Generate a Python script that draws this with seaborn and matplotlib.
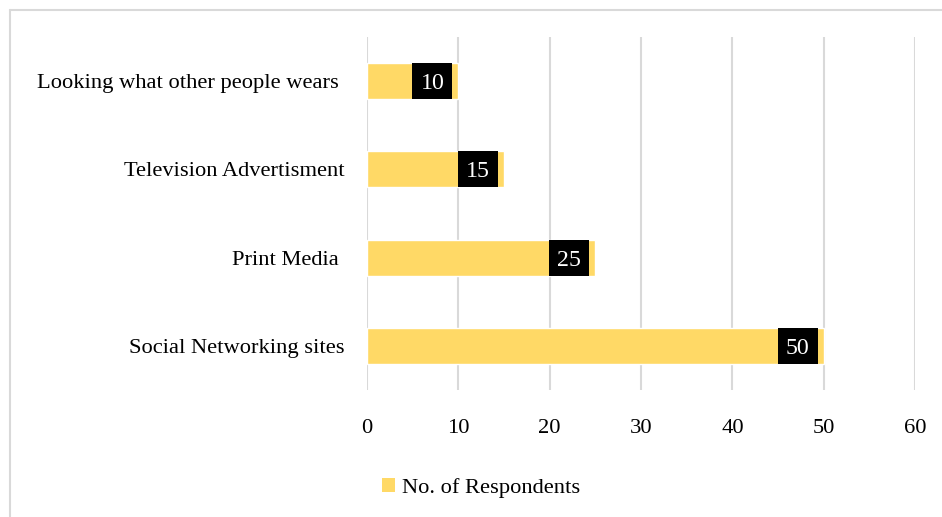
import matplotlib
matplotlib.use("Agg")
import matplotlib.pyplot as plt
from matplotlib.patches import Patch, Rectangle
from matplotlib.lines import Line2D
import seaborn as sns
import pandas as pd

# Sources that influence clothing choices
categories = [
    "Looking what other people wears ",
    "Television Advertisment",
    "Print Media ",
    "Social Networking sites",
]
respondents = [10, 15, 25, 50]
series_name = "No. of Respondents"
x_ticks = [0, 10, 20, 30, 40, 50, 60]

BAR_COLOR = "#FFD966"
GRID_COLOR = "#D9D9D9"
FS = 16.2

sns.set_theme(style="white")
plt.rcParams["font.family"] = ["Liberation Serif", "DejaVu Serif"]
plt.rcParams["text.color"] = "black"

df = pd.DataFrame({"source": categories, "count": respondents})

fig = plt.figure(figsize=(9.42, 5.17), dpi=100)
ax = fig.add_axes([367 / 942, 1 - 390 / 517, (915 - 367) / 942, (390 - 37) / 517])

sns.barplot(data=df, x="count", y="source", orient="h", color=BAR_COLOR,
            saturation=1, width=0.41, ax=ax, zorder=2)

ax.set_xlim(0, 60)
ax.set_xticks(x_ticks)
ax.set_xticklabels([str(t) for t in x_ticks])
ax.xaxis.grid(True, color=GRID_COLOR, linewidth=1.5, zorder=0)
ax.set_axisbelow(True)
for side in ax.spines.values():
    side.set_visible(False)
ax.tick_params(axis="x", length=0, pad=21, labelsize=FS, colors="black")
ax.tick_params(axis="y", length=0, pad=16, labelsize=FS, colors="black")
ax.set_xlabel("")
ax.set_ylabel("")

# Value labels: black boxes inside the bar ends
px_per_unit = ax.get_window_extent().width / 60
box_w = 40 / px_per_unit
gap = 6 / px_per_unit
for bar, val in zip(ax.patches, respondents):
    y0 = bar.get_y()
    h = bar.get_height()
    right = bar.get_width() - gap
    ax.add_patch(Rectangle((right - box_w, y0), box_w, h, facecolor="black",
                           edgecolor="none", zorder=3))
    ax.text(right - box_w / 2, y0 + h / 2, str(val), color="white",
            fontsize=FS + 1, ha="center", va="center_baseline", zorder=4)

leg = fig.legend(handles=[Patch(facecolor=BAR_COLOR, edgecolor="none")],
                 labels=[series_name], loc="center",
                 bbox_to_anchor=(481 / 942, 1 - 488 / 517),
                 frameon=False, fontsize=FS, handlelength=0.6, handleheight=0.6,
                 handletextpad=0.3)
for t in leg.get_texts():
    t.set_color("black")

# Chart frame (top and left edges)
fig.add_artist(Line2D([10 / 942, 1], [1 - 9.5 / 517, 1 - 9.5 / 517],
                      color=GRID_COLOR, linewidth=1.5))
fig.add_artist(Line2D([10 / 942, 10 / 942], [0, 1 - 9.5 / 517],
                      color=GRID_COLOR, linewidth=1.5))

fig.savefig("out.png", dpi=100)
